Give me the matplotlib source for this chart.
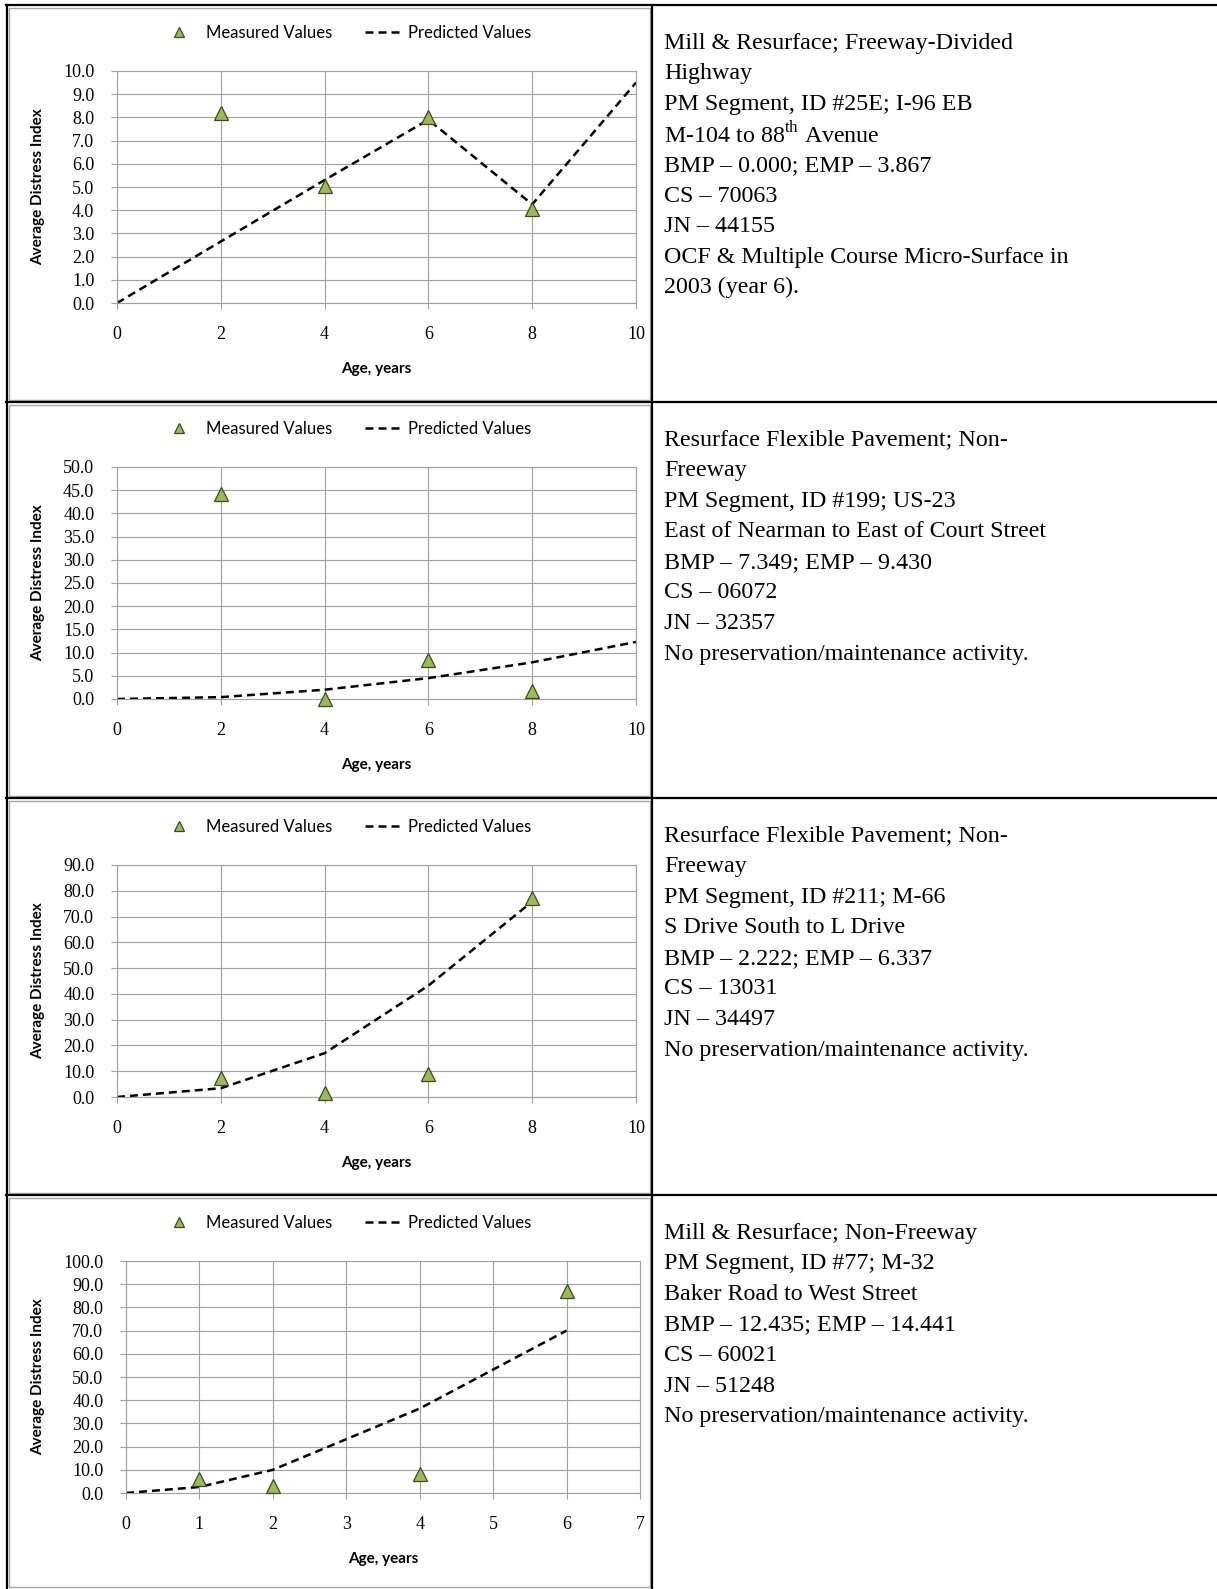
import matplotlib
matplotlib.use("Agg")
import matplotlib.pyplot as plt
from matplotlib.lines import Line2D
from matplotlib.patches import Rectangle

plt.rcParams['mathtext.fontset'] = 'custom'
plt.rcParams['mathtext.rm'] = 'Liberation Serif'

# --- data ---
p1_meas_x = [2, 4, 6, 8]
p1_meas_y = [8.2, 5.06, 8.0, 4.07]
p1_pred_x = [0, 2, 4, 6, 8, 10]
p1_pred_y = [0.0, 2.65, 5.3, 7.9, 4.25, 9.5]

p2_meas_x = [2, 4, 6, 8]
p2_meas_y = [44.2, 0.1, 8.5, 1.8]
p2_pred_x = [0, 2, 4, 6, 8, 10]
p2_pred_y = [0.0, 0.4, 2.0, 4.5, 7.9, 12.3]

p3_meas_x = [2, 4, 6, 8]
p3_meas_y = [7.4, 1.7, 8.8, 77.3]
p3_pred_x = [0, 2, 4, 6, 8]
p3_pred_y = [0.0, 3.4, 17.0, 43.2, 75.8]

p4_meas_x = [1, 2, 4, 6]
p4_meas_y = [5.9, 3.0, 8.0, 86.9]
p4_pred_x = [0, 1, 2, 4, 6]
p4_pred_y = [0.0, 2.6, 10.0, 36.4, 70.0]

y_max = [10, 50, 90, 100]
y_step = [1, 5, 10, 10]
x_ticks = [[0, 2, 4, 6, 8, 10], [0, 2, 4, 6, 8, 10], [0, 2, 4, 6, 8, 10], [0, 1, 2, 3, 4, 5, 6, 7]]

notes1 = ["Mill & Resurface; Freeway-Divided", "Highway", "PM Segment, ID #25E; I-96 EB",
          r"M-104 to 88$^{\mathrm{th}}$ Avenue", "BMP – 0.000; EMP – 3.867", "CS – 70063",
          "JN – 44155", "OCF & Multiple Course Micro-Surface in", "2003 (year 6)."]
notes2 = ["Resurface Flexible Pavement; Non-", "Freeway", "PM Segment, ID #199; US-23",
          "East of Nearman to East of Court Street", "BMP – 7.349; EMP – 9.430", "CS – 06072",
          "JN – 32357", "No preservation/maintenance activity."]
notes3 = ["Resurface Flexible Pavement; Non-", "Freeway", "PM Segment, ID #211; M-66",
          "S Drive South to L Drive", "BMP – 2.222; EMP – 6.337", "CS – 13031",
          "JN – 34497", "No preservation/maintenance activity."]
notes4 = ["Mill & Resurface; Non-Freeway", "PM Segment, ID #77; M-32", "Baker Road to West Street",
          "BMP – 12.435; EMP – 14.441", "CS – 60021", "JN – 51248",
          "No preservation/maintenance activity."]

W, H = 1217, 1589
fig = plt.figure(figsize=(W / 100, H / 100), dpi=100)


def fx(px):
    return px / W


def fy(py):
    return 1 - py / H


# row boundaries of the table (pixels)
rows = [5, 402, 798, 1195, H]
div_x = 652

# axes boxes in pixels: left, right, top, bottom
boxes = [(117, 636, 71, 303), (117, 636, 467, 699), (117, 636, 865, 1097), (126, 640, 1261, 1493)]

panels = [(p1_meas_x, p1_meas_y, p1_pred_x, p1_pred_y),
          (p2_meas_x, p2_meas_y, p2_pred_x, p2_pred_y),
          (p3_meas_x, p3_meas_y, p3_pred_x, p3_pred_y),
          (p4_meas_x, p4_meas_y, p4_pred_x, p4_pred_y)]
notes = [notes1, notes2, notes3, notes4]

grid_c = '#a0a0a0'
for i, (mx, my, px, py) in enumerate(panels):
    l, r, t, b = boxes[i]
    ax = fig.add_axes([fx(l), fy(b), (r - l) / W, (b - t) / H])
    ax.set_xlim(x_ticks[i][0], x_ticks[i][-1])
    ax.set_ylim(0, y_max[i])
    ax.set_xticks(x_ticks[i])
    yt = [k * y_step[i] for k in range(int(y_max[i] / y_step[i]) + 1)]
    ax.set_yticks(yt)
    ax.set_yticklabels([f"{v:.1f}" for v in yt])
    ax.grid(True, color=grid_c, lw=0.8)
    ax.set_axisbelow(True)
    for s in ax.spines.values():
        s.set_color(grid_c)
        s.set_linewidth(0.8)
    ax.tick_params(axis='both', direction='out', length=4.3, width=0.8, color=grid_c,
                   labelsize=13)
    ax.tick_params(axis='y', pad=12)
    ax.tick_params(axis='x', pad=12)
    for lab in ax.get_xticklabels() + ax.get_yticklabels():
        lab.set_family('Liberation Serif')

    pred, = ax.plot(px, py, color='black', lw=1.8, dashes=(3.2, 2.0), label='Predicted Values')
    meas, = ax.plot(mx, my, ls='none', marker='^', ms=9.5, mfc='#9bbb59', mec='#3b4a1e',
                    mew=0.9, clip_on=False, label='Measured Values', zorder=5)

    fig.legend(handles=[meas, pred], loc='center', bbox_to_anchor=(fx(347), fy(t - 38)),
               ncol=2, frameon=False, prop={'family': 'Lato', 'size': 12},
               handlelength=2.05, handletextpad=0.55, columnspacing=2.0, markerscale=0.75)

    fig.text(fx(38), fy((t + b) / 2), 'Average Distress Index', rotation=90, ha='center',
             va='center', family='Lato', weight='bold', size=11)
    fig.text(fx((l + r) / 2), fy(b + 66), 'Age, years', ha='center', va='center',
             family='Lato', weight='bold', size=11)

    # chart area frame
    fig.add_artist(Rectangle((fx(9), fy(rows[i + 1] - 2)), (div_x - 11) / W,
                             (rows[i + 1] - rows[i] - 5) / H, transform=fig.transFigure,
                             fill=False, edgecolor='#a6a6a6', lw=1.0))

    # description text in right column
    for j, line in enumerate(notes[i]):
        fig.text(fx(664), fy(rows[i] + 38 + j * 30.6), line, ha='left', va='center',
                 family='Liberation Serif', size=17.3)

# table borders
lk = dict(transform=fig.transFigure, color='black', lw=1.6)
fig.add_artist(Line2D([fx(7), fx(7)], [fy(rows[0]), 0], **lk))
fig.add_artist(Line2D([fx(div_x), fx(div_x)], [fy(rows[0]), 0], **lk))
for y in rows[:-1]:
    fig.add_artist(Line2D([fx(6), 1], [fy(y), fy(y)], **lk))

fig.savefig('out.png', dpi=100)
